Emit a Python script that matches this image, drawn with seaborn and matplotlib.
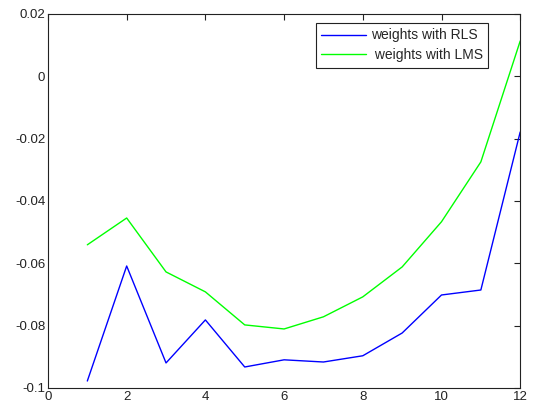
import numpy as np
import pandas as pd
import matplotlib
matplotlib.use("Agg")
import matplotlib.pyplot as plt
import seaborn as sns

# data
iterations = [1, 2, 3, 4, 5, 6, 7, 8, 9, 10, 11, 12]
w_rls = [-0.0978, -0.0609, -0.0920, -0.0782, -0.0933, -0.0910,
         -0.0917, -0.0897, -0.0824, -0.0702, -0.0686, -0.0179]
w_lms = [-0.0541, -0.0455, -0.0628, -0.0692, -0.0798, -0.0811,
         -0.0772, -0.0708, -0.0612, -0.0467, -0.0275, 0.0113]
labels = ["weights with RLS", " weights with LMS"]
x_ticks = [0, 2, 4, 6, 8, 10, 12]
y_ticks = [-0.1, -0.08, -0.06, -0.04, -0.02, 0, 0.02]
y_ticklabels = ["-0.1", "-0.08", "-0.06", "-0.04", "-0.02", "0", "0.02"]

df = pd.DataFrame({
    "x": iterations * 2,
    "w": w_rls + w_lms,
    "series": [labels[0]] * len(w_rls) + [labels[1]] * len(w_lms),
})

sns.set_style("white")
plt.rcParams["font.family"] = ["Liberation Sans", "DejaVu Sans"]

fig = plt.figure(figsize=(5.33, 4.07), dpi=100)
ax = fig.add_axes([0.090, 0.047, 0.886, 0.919])

sns.lineplot(data=df, x="x", y="w", hue="series",
             palette={labels[0]: "#0000FF", labels[1]: "#00FF00"},
             linewidth=1.0, ax=ax)

ax.set_xlim(0, 12)
ax.set_ylim(-0.1, 0.02)
ax.set_xticks(x_ticks)
ax.set_xticklabels([str(t) for t in x_ticks])
ax.set_yticks(y_ticks)
ax.set_yticklabels(y_ticklabels)
ax.set_xlabel("")
ax.set_ylabel("")
ax.tick_params(direction="in", length=4, width=0.8, top=True, right=True,
               labelsize=9.5, colors="#222222", pad=2)
for s in ax.spines.values():
    s.set_color("#222222")
    s.set_linewidth(0.8)

leg = ax.legend(loc="upper right", bbox_to_anchor=(0.932, 0.976), borderaxespad=0,
                fontsize=10, frameon=True, fancybox=False, framealpha=1,
                edgecolor="#222222", handlelength=3.2, handletextpad=0.35,
                borderpad=0.4, labelspacing=0.43)
leg.get_frame().set_linewidth(0.8)

fig.savefig("out.png", dpi=100, facecolor="white")
